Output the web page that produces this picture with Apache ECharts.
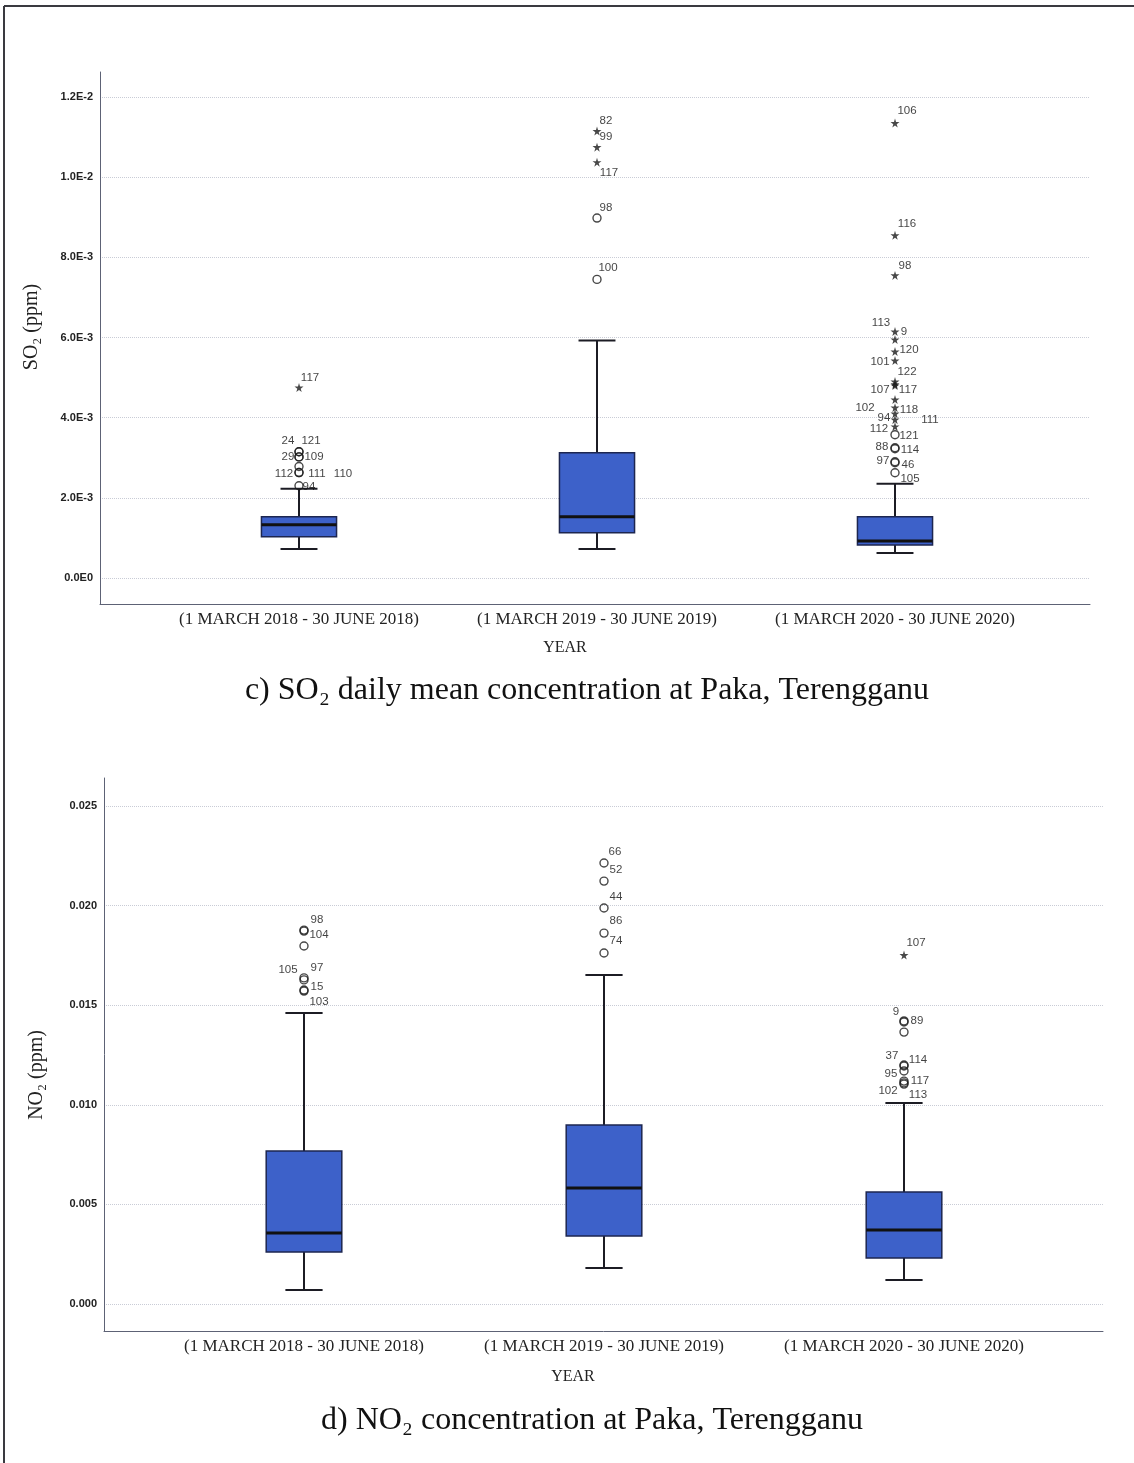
<!DOCTYPE html>
<html><head><meta charset="utf-8">
<script src="https://cdn.jsdelivr.net/npm/echarts@6/dist/echarts.min.js"></script>
<style>html,body{margin:0;padding:0;background:#fff}#c{width:1134px;height:1463px}</style>
</head><body><div id="c"></div>
<script>
// ---------------- DATA ----------------
const years = ['(1 MARCH 2018 - 30 JUNE 2018)', '(1 MARCH 2019 - 30 JUNE 2019)', '(1 MARCH 2020 - 30 JUNE 2020)'];

// SO2 box stats: [low whisker, Q1, median, Q3, high whisker]
const so2Box2018 = [0.000725, 0.00103, 0.00133, 0.00153, 0.002225];
const so2Box2019 = [0.000725, 0.001125, 0.001525, 0.003125, 0.005925];
const so2Box2020 = [0.000625, 0.000825, 0.000925, 0.001525, 0.00235];

const so2OutYear  = [0,0,0,0,0,0,0,0,0, 1,1,1,1,1, 2,2,2,2,2,2,2,2,2,2,2,2,2,2,2,2,2,2,2,2,2];
const so2OutValue = [0.00475,0.00315,0.00315,0.00302,0.00302,0.00278,0.00263,0.00263,0.0023,
                     0.01115,0.01075,0.010375,0.00898,0.00745,
                     0.01135,0.00855,0.00755,0.00615,0.00595,0.00565,0.005425,0.0049,0.00483,0.0048,
                     0.00445,0.00425,0.0041,0.00395,0.00378,0.003575,0.00325,0.003225,0.0029,0.002875,0.002625];
const so2OutCase  = ['117','24','121','29','109','112','111','110','94',
                     '82','99','117','98','100',
                     '106','116','98','9','113','120','101','122','107','117',
                     '102','118','94','111','112','121','88','114','97','46','105'];
const so2OutKind  = ['star','circle','circle','circle','circle','circle','circle','circle','circle',
                     'star','star','star','circle','circle',
                     'star','star','star','star','star','star','star','star','star','star',
                     'star','star','star','star','star','circle','circle','circle','circle','circle','circle'];

const so2TickValues = [0, 0.002, 0.004, 0.006, 0.008, 0.010, 0.012];
const so2TickLabels = ['0.0E0','2.0E-3','4.0E-3','6.0E-3','8.0E-3','1.0E-2','1.2E-2'];

// NO2 box stats
const no2Box2018 = [0.0007, 0.00261, 0.00356, 0.00768, 0.01461];
const no2Box2019 = [0.00181, 0.00341, 0.00582, 0.00899, 0.01652];
const no2Box2020 = [0.0012, 0.00231, 0.00371, 0.00562, 0.01009];

const no2OutYear  = [0,0,0,0,0,0,0, 1,1,1,1,1, 2,2,2,2,2,2,2,2,2,2];
const no2OutValue = [0.01877,0.01872,0.01797,0.01637,0.01627,0.01576,0.01571,
                     0.02214,0.02123,0.01988,0.01862,0.01762,
                     0.01752,0.01421,0.01416,0.01365,0.0120,0.01195,0.0117,0.01119,0.0111,0.01104];
const no2OutCase  = ['98','104','','105','97','103','15',
                     '66','52','44','86','74',
                     '107','9','89','','37','114','95','117','102','113'];
const no2OutKind  = ['circle','circle','circle','circle','circle','circle','circle',
                     'circle','circle','circle','circle','circle',
                     'star','circle','circle','circle','circle','circle','circle','circle','circle','circle'];

const no2TickValues = [0, 0.005, 0.010, 0.015, 0.020, 0.025];
const no2TickLabels = ['0.000','0.005','0.010','0.015','0.020','0.025'];

// ---------------- STYLE / LAYOUT ----------------
const SERIF = '"Liberation Serif","Times New Roman",serif';
const SANS = '"Liberation Sans",Arial,sans-serif';
const BOX_FILL = '#3d61c9';
const INK = '#1c1c24';
const AXIS_COLOR = '#5d6275';
const GRID_COLOR = '#c9ccd6';
const STAR = 'path://M50,0 L61,35 L98,35 L68,57 L79,91 L50,70 L21,91 L32,57 L2,35 L39,35 Z';

// label offsets (px) of case-number labels, keyed "year:case"
const so2LabelOffset = {
  '0:117':[11,-10],'0:24':[-11,-11],'0:121':[12,-11],'0:29':[-11,0],'0:109':[15,0],
  '0:112':[-15,7],'0:111':[18,1],'0:110':[44,1],'0:94':[10,1],
  '1:82':[9,-10],'1:99':[9,-10],'1:117':[12,11],'1:98':[9,-10],'1:100':[11,-12],
  '2:106':[12,-12],'2:116':[12,-11],'2:98':[10,-10],'2:9':[9,0],'2:113':[-14,-17],
  '2:120':[14,-2],'2:101':[-15,1],'2:122':[12,-10],'2:107':[-15,5],'2:117':[13,4],
  '2:102':[-30,8],'2:118':[14,2],'2:94':[-11,4],'2:111':[35,0],'2:112':[-16,2],
  '2:121':[14,1],'2:88':[-13,-1],'2:114':[15,1],'2:97':[-12,-1],'2:46':[13,2],'2:105':[15,6]
};
const no2LabelOffset = {
  '0:98':[13,-10],'0:104':[15,4],'0:105':[-16,-8],'0:97':[13,-12],'0:103':[15,12],'0:15':[13,-4],
  '1:66':[11,-11],'1:52':[12,-11],'1:44':[12,-11],'1:86':[12,-12],'1:74':[12,-12],
  '2:107':[12,-12],'2:9':[-8,-9],'2:89':[13,-1],'2:37':[-12,-9],'2:114':[14,-6],
  '2:95':[-13,3],'2:117':[16,0],'2:102':[-16,8],'2:113':[14,11]
};

function boxRender(params, api) {
  const x = api.value(0);
  const p = [1,2,3,4,5].map(i => api.coord([x, api.value(i)]));
  const band = api.size([1, 0])[0];
  const hw = band * 0.126, cw = band * 0.062;
  const cx = p[0][0];
  return {type:'group', children:[
    {type:'line', shape:{x1:cx,y1:p[0][1],x2:cx,y2:p[1][1]}, style:{stroke:INK,lineWidth:2}},
    {type:'line', shape:{x1:cx,y1:p[3][1],x2:cx,y2:p[4][1]}, style:{stroke:INK,lineWidth:2}},
    {type:'line', shape:{x1:cx-cw,y1:p[0][1],x2:cx+cw,y2:p[0][1]}, style:{stroke:INK,lineWidth:2}},
    {type:'line', shape:{x1:cx-cw,y1:p[4][1],x2:cx+cw,y2:p[4][1]}, style:{stroke:INK,lineWidth:2}},
    {type:'rect', shape:{x:cx-hw,y:p[3][1],width:2*hw,height:p[1][1]-p[3][1]}, style:{fill:BOX_FILL,stroke:'#1d2650',lineWidth:1.5}},
    {type:'line', shape:{x1:cx-hw,y1:p[2][1],x2:cx+hw,y2:p[2][1]}, style:{stroke:'#111',lineWidth:3}}
  ]};
}

function outlierSeries(xi, yi, yearArr, valArr, caseArr, kindArr, offsets, kind) {
  const data = [];
  valArr.forEach((v, i) => {
    if (kindArr[i] !== kind) return;
    const c = caseArr[i];
    data.push({value:[yearArr[i], v],
      label:{show: c !== '', formatter: c, offset: offsets[yearArr[i] + ':' + c] || [0,0]}});
  });
  return {type:'scatter', xAxisIndex:xi, yAxisIndex:yi, data, silent:true, z:5,
    symbol: kind === 'star' ? STAR : 'circle',
    symbolSize: kind === 'star' ? 9 : 8,
    itemStyle: kind === 'star' ? {color:'#1a1a1a'} : {color:'rgba(255,255,255,0)', borderColor:'#1a1a1a', borderWidth:1.4},
    label:{position:'inside', color:'#111', fontSize:11.5, fontFamily:SANS}
  };
}

function frameAxes(gi, min, max, vals, labels) {
  return {
    x: {type:'value', gridIndex:gi, min:0, max:1, axisLabel:{show:false}, axisTick:{show:false}, splitLine:{show:false},
        axisLine:{show:true, onZero:false, lineStyle:{color:AXIS_COLOR, width:1}}},
    y: {type:'value', gridIndex:gi, min, max,
        axisLine:{show:true, onZero:false, lineStyle:{color:AXIS_COLOR, width:1}},
        axisTick:{show:false, customValues: vals},
        axisLabel:{customValues: vals, color:'#222', fontSize:11, fontWeight:'bold', fontFamily:SANS, margin:7,
          formatter: v => labels[vals.findIndex(t => Math.abs(t - v) < 1e-9)]},
        splitLine:{show:true, lineStyle:{color:GRID_COLOR, type:'dotted', width:1}}}
  };
}
function plotAxes(gi, min, max) {
  return {
    x: {type:'category', gridIndex:gi, data:years, boundaryGap:true, axisLine:{show:false, onZero:false}, axisTick:{show:false},
        axisLabel:{color:'#222', fontSize:17, fontFamily:SERIF, margin:7, interval:0}},
    y: {type:'value', gridIndex:gi, min, max, show:false}
  };
}

const so2Min = -0.00065, so2Max = 0.012625;
const no2Min = -0.001355, no2Max = 0.026406;

const f0 = frameAxes(0, so2Min, so2Max, so2TickValues, so2TickLabels);
const p1 = plotAxes(1, so2Min, so2Max);
const f2 = frameAxes(2, no2Min, no2Max, no2TickValues, no2TickLabels);
const p3 = plotAxes(3, no2Min, no2Max);

const option = {
  animation:false,
  backgroundColor:'#fff',
  grid:[
    {left:100, right:44, top:72, bottom:859},
    {left:150, right:90, top:72, bottom:859},
    {left:104, right:31, top:778, bottom:132},
    {left:154, right:80, top:778, bottom:132}
  ],
  xAxis:[f0.x, p1.x, f2.x, p3.x],
  yAxis:[f0.y, p1.y, f2.y, p3.y],
  series:[
    {type:'custom', xAxisIndex:1, yAxisIndex:1, renderItem:boxRender, silent:true, z:3,
     encode:{x:0, y:[1,2,3,4,5]},
     data:[[0].concat(so2Box2018),[1].concat(so2Box2019),[2].concat(so2Box2020)]},
    outlierSeries(1,1,so2OutYear,so2OutValue,so2OutCase,so2OutKind,so2LabelOffset,'circle'),
    outlierSeries(1,1,so2OutYear,so2OutValue,so2OutCase,so2OutKind,so2LabelOffset,'star'),
    {type:'custom', xAxisIndex:3, yAxisIndex:3, renderItem:boxRender, silent:true, z:3,
     encode:{x:0, y:[1,2,3,4,5]},
     data:[[0].concat(no2Box2018),[1].concat(no2Box2019),[2].concat(no2Box2020)]},
    outlierSeries(3,3,no2OutYear,no2OutValue,no2OutCase,no2OutKind,no2LabelOffset,'circle'),
    outlierSeries(3,3,no2OutYear,no2OutValue,no2OutCase,no2OutKind,no2LabelOffset,'star')
  ],
  graphic:[
    {type:'line', shape:{x1:4,y1:6,x2:1134,y2:6}, style:{stroke:'#3a3a40',lineWidth:2}},
    {type:'line', shape:{x1:4,y1:6,x2:4,y2:1463}, style:{stroke:'#3a3a40',lineWidth:2}},
    {type:'text', x:32, y:327, rotation:Math.PI/2,
     style:{text:'SO₂ (ppm)', font:'20px ' + SERIF, fill:'#222', align:'center', verticalAlign:'middle'}},
    {type:'text', x:37, y:1075, rotation:Math.PI/2,
     style:{text:'NO₂ (ppm)', font:'20px ' + SERIF, fill:'#222', align:'center', verticalAlign:'middle'}},
    {type:'text', x:565, y:648, style:{text:'YEAR', font:'16px ' + SERIF, fill:'#222', align:'center', verticalAlign:'middle'}},
    {type:'text', x:573, y:1377, style:{text:'YEAR', font:'16px ' + SERIF, fill:'#222', align:'center', verticalAlign:'middle'}},
    {type:'text', x:587, y:691, style:{text:'c) SO₂ daily mean concentration at Paka, Terengganu', font:'32px ' + SERIF, fill:'#111', align:'center', verticalAlign:'middle'}},
    {type:'text', x:592, y:1421, style:{text:'d) NO₂ concentration at Paka, Terengganu', font:'32px ' + SERIF, fill:'#111', align:'center', verticalAlign:'middle'}}
  ]
};
const chart = echarts.init(document.getElementById('c'));
chart.setOption(option);
</script>
</body></html>
